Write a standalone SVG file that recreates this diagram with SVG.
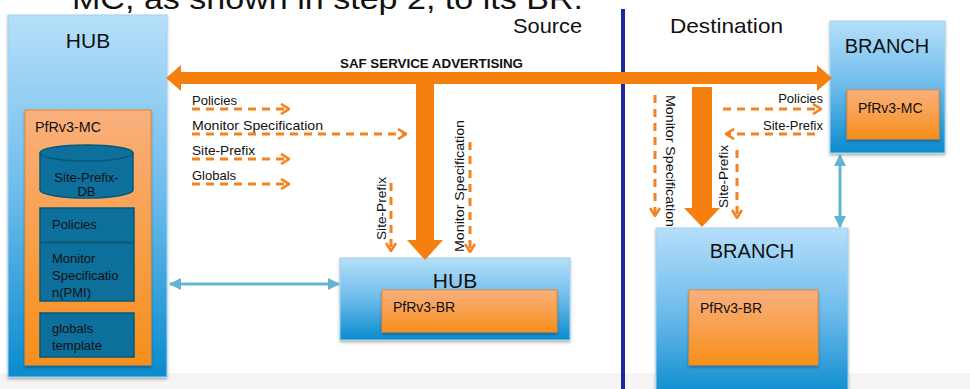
<svg xmlns="http://www.w3.org/2000/svg" width="970" height="389" viewBox="0 0 970 389">
<style>
text{font-family:"Liberation Sans","DejaVu Sans",sans-serif;fill:#111}
.big{font-size:21px}
.lbl{font-size:13px}
.wlbl{font-size:12.5px;fill:#fff;}
.inner{font-size:13px;fill:#111}
.dash{fill:none;stroke:#f5821f;stroke-width:3;stroke-dasharray:8 6}
.blue{fill:url(#blueG);stroke:#9fd0f0;stroke-width:1;filter:url(#sh)}
.orange{fill:url(#orgG);stroke:#e8892e;stroke-width:1;filter:url(#sh)}
.dark{fill:#0c6f9c;stroke:#075878;stroke-width:1.5}
.thick{fill:#f6800f}
.lb{stroke:#62b4d3;stroke-width:3;fill:none}
</style>
<defs>
<linearGradient id="blueG" x1="0" y1="0" x2="0" y2="1">
<stop offset="0" stop-color="#b6dffa"/>
<stop offset="0.5" stop-color="#6cbbeb"/>
<stop offset="1" stop-color="#0b8bcd"/>
</linearGradient>
<linearGradient id="orgG" x1="0" y1="0" x2="0" y2="1">
<stop offset="0" stop-color="#f9b07d"/>
<stop offset="1" stop-color="#f78f1a"/>
</linearGradient>
<filter id="sh" x="-10%" y="-10%" width="120%" height="120%">
<feDropShadow dx="0" dy="2" stdDeviation="1.5" flood-color="#000" flood-opacity="0.3"/>
</filter>
<marker id="chev" viewBox="0 0 10 12" refX="9" refY="6" markerWidth="10" markerHeight="12" markerUnits="userSpaceOnUse" orient="auto">
<path d="M1,1 L9,6 L1,11" fill="none" stroke="#f5821f" stroke-width="2.6" stroke-dasharray="none"/>
</marker>
<marker id="tri" viewBox="0 0 12 12" refX="11" refY="6" markerWidth="12" markerHeight="12" markerUnits="userSpaceOnUse" orient="auto-start-reverse">
<path d="M0,0 L12,6 L0,12 Z" fill="#62b4d3"/>
</marker>
</defs>

<rect x="0" y="373" width="970" height="16" fill="#f5f5f5"/>
<text x="72" y="9" style="font-size:30px" textLength="511" lengthAdjust="spacingAndGlyphs">MC, as shown in step 2, to its BR.</text>
<text x="513" y="33" class="big" textLength="69" lengthAdjust="spacingAndGlyphs">Source</text>
<text x="670" y="33" class="big" textLength="113" lengthAdjust="spacingAndGlyphs">Destination</text>
<rect x="621" y="9" width="4" height="380" fill="#1b2a98"/>
<text x="340" y="68" style="font-size:12px;font-weight:bold" textLength="183" lengthAdjust="spacingAndGlyphs">SAF SERVICE ADVERTISING</text>

<g id="hub-left">
<rect x="8" y="15" width="159" height="362" class="blue"/>
<text x="88" y="48" class="big" text-anchor="middle">HUB</text>
<rect x="25" y="110" width="126" height="255" class="orange"/>
<text x="35" y="132" style="font-size:15px" textLength="66" lengthAdjust="spacingAndGlyphs">PfRv3-MC</text>
<g id="site-prefix-db">
<path d="M40,153 L40,190 A46.5,8 0 0 0 133,190 L133,153 Z" class="dark"/>
<ellipse cx="86.5" cy="153" rx="46.5" ry="8" class="dark"/>
<text x="86.5" y="182" class="inner" text-anchor="middle">Site-Prefix-</text>
<text x="86.5" y="196" class="inner" text-anchor="middle">DB</text>
</g>
<rect x="40" y="208" width="94" height="34" class="dark"/>
<text x="52" y="229" class="inner">Policies</text>
<rect x="40" y="243" width="94" height="58" class="dark"/>
<text x="52" y="263" class="inner">Monitor</text>
<text x="52" y="280" class="inner">Specificatio</text>
<text x="52" y="297" class="inner">n(PMI)</text>
<rect x="40" y="313" width="94" height="44" class="dark"/>
<text x="52" y="333" class="inner">globals</text>
<text x="52" y="350" class="inner">template</text>
</g>

<g id="hub-source">
<rect x="340" y="258" width="230" height="82" class="blue"/>
<text x="455" y="288" class="big" text-anchor="middle">HUB</text>
<rect x="382" y="290" width="175" height="42" class="orange"/>
<text x="393" y="312" style="font-size:14px">PfRv3-BR</text>
</g>

<g id="branch-top">
<rect x="830" y="21" width="115" height="132" class="blue"/>
<text x="887" y="53" style="font-size:20px" text-anchor="middle">BRANCH</text>
<rect x="847" y="90" width="92" height="49" class="orange"/>
<text x="858" y="113" style="font-size:14px">PfRv3-MC</text>
</g>

<g id="branch-bottom">
<rect x="656" y="228" width="192" height="170" class="blue"/>
<text x="752" y="258" style="font-size:20px" text-anchor="middle">BRANCH</text>
<rect x="689" y="290" width="129" height="75" class="orange"/>
<text x="700" y="313" style="font-size:14px">PfRv3-BR</text>
</g>

<g id="connectors">
<polygon class="thick" points="166,78 181,65 181,72 817,72 817,65 832,78 817,91 817,84 181,84 181,91"/>
<polygon class="thick" points="416,80 434,80 434,240 443,240 425,260 407,240 416,240"/>
<polygon class="thick" points="692,87 712,87 712,208 720,208 702,227 684,208 692,208"/>

<line x1="170" y1="284" x2="339" y2="284" class="lb" marker-start="url(#tri)" marker-end="url(#tri)"/>
<line x1="840" y1="155" x2="840" y2="227" class="lb" marker-start="url(#tri)" marker-end="url(#tri)"/>

<text x="192" y="105" class="lbl" textLength="45" lengthAdjust="spacingAndGlyphs">Policies</text>
<line x1="192" y1="109" x2="289" y2="109" class="dash" marker-end="url(#chev)"/>
<text x="192" y="130" class="lbl" textLength="131" lengthAdjust="spacingAndGlyphs">Monitor Specification</text>
<line x1="192" y1="134" x2="406" y2="134" class="dash" marker-end="url(#chev)"/>
<text x="192" y="155" class="lbl" textLength="63" lengthAdjust="spacingAndGlyphs">Site-Prefix</text>
<line x1="192" y1="159" x2="289" y2="159" class="dash" marker-end="url(#chev)"/>
<text x="192" y="180" class="lbl" textLength="44" lengthAdjust="spacingAndGlyphs">Globals</text>
<line x1="192" y1="184" x2="289" y2="184" class="dash" marker-end="url(#chev)"/>

<text transform="translate(386,240) rotate(-90)" class="lbl" textLength="63" lengthAdjust="spacingAndGlyphs">Site-Prefix</text>
<line x1="391" y1="183" x2="391" y2="251" class="dash" marker-end="url(#chev)"/>
<text transform="translate(464,252) rotate(-90)" class="lbl" textLength="132" lengthAdjust="spacingAndGlyphs">Monitor Specification</text>
<line x1="470" y1="142" x2="470" y2="252" class="dash" marker-end="url(#chev)"/>

<text x="823" y="103" class="lbl" text-anchor="end">Policies</text>
<line x1="723" y1="109" x2="821" y2="109" class="dash" marker-end="url(#chev)"/>
<text x="823" y="130" class="lbl" text-anchor="end">Site-Prefix</text>
<line x1="815" y1="134" x2="726" y2="134" class="dash" marker-end="url(#chev)"/>
<text transform="translate(666,95) rotate(90)" class="lbl" textLength="132" lengthAdjust="spacingAndGlyphs">Monitor Specification</text>
<line x1="655" y1="95" x2="655" y2="216" class="dash" marker-end="url(#chev)"/>
<text transform="translate(728,208) rotate(-90)" class="lbl" textLength="63" lengthAdjust="spacingAndGlyphs">Site-Prefix</text>
<line x1="737" y1="150" x2="737" y2="218" class="dash" marker-end="url(#chev)"/>
</g>
</svg>
